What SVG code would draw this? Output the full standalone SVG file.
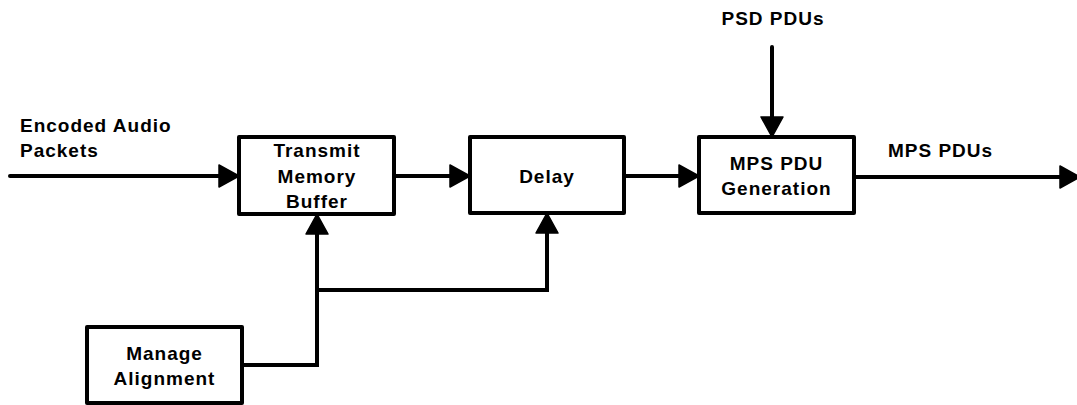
<svg xmlns="http://www.w3.org/2000/svg" width="1077" height="405" viewBox="0 0 1077 405">
  <style>
    .box { fill: #ffffff; stroke: #000000; stroke-width: 4; stroke-linejoin: round; }
    .wire { fill: none; stroke: #000000; stroke-width: 4; stroke-linecap: round; stroke-linejoin: miter; }
    .lbl { font-family: "Liberation Sans", Arial, sans-serif; font-weight: bold; font-size: 19px; letter-spacing: 1px; fill: #000000; }
    .mid { text-anchor: middle; }
  </style>
  <defs>
    <!-- solid arrowhead; path ends at the base of the head -->
    <marker id="head" markerUnits="userSpaceOnUse" markerWidth="24" markerHeight="26" refX="0" refY="11" orient="auto" overflow="visible">
      <path d="M0,0 L20,11 L0,22 Z" fill="#000000" stroke="#000000" stroke-width="1.5" stroke-linejoin="round"/>
    </marker>
  </defs>

  <rect width="1077" height="405" fill="#ffffff"/>

  <g id="connectors">
    <!-- audio input into buffer -->
    <path class="wire" d="M10,176 L219,176" marker-end="url(#head)"/>
    <!-- buffer to delay -->
    <path class="wire" d="M394,176 L450,176" marker-end="url(#head)"/>
    <!-- delay to PDU generation -->
    <path class="wire" d="M624,176 L679,176" marker-end="url(#head)"/>
    <!-- PDU output -->
    <path class="wire" d="M854,177 L1060,177" marker-end="url(#head)"/>
    <!-- PSD PDUs into generation -->
    <path class="wire" d="M772,47 L772,117" marker-end="url(#head)"/>
    <!-- alignment control to buffer -->
    <path class="wire" d="M242,365 L317,365 L317,234" marker-end="url(#head)"/>
    <!-- alignment control branch to delay -->
    <path class="wire" d="M317,290 L547,290 L547,233" marker-end="url(#head)"/>
  </g>

  <g id="label-input">
    <text class="lbl" x="20" y="132">Encoded Audio</text>
    <text class="lbl" x="20" y="157">Packets</text>
  </g>

  <g id="label-psd">
    <text class="lbl mid" x="773" y="25">PSD PDUs</text>
  </g>

  <g id="label-output">
    <text class="lbl" x="888" y="157">MPS PDUs</text>
  </g>

  <g id="node-buffer">
    <rect class="box" x="239" y="137" width="155" height="77"/>
    <text class="lbl mid" x="317" y="157">Transmit</text>
    <text class="lbl mid" x="317" y="182.5">Memory</text>
    <text class="lbl mid" x="317" y="208">Buffer</text>
  </g>

  <g id="node-delay">
    <rect class="box" x="470" y="137" width="154" height="76"/>
    <text class="lbl mid" x="547" y="182.5">Delay</text>
  </g>

  <g id="node-generation">
    <rect class="box" x="699" y="137" width="155" height="76"/>
    <text class="lbl mid" x="776.5" y="170">MPS PDU</text>
    <text class="lbl mid" x="776.5" y="195">Generation</text>
  </g>

  <g id="node-alignment">
    <rect class="box" x="87" y="327" width="155" height="76"/>
    <text class="lbl mid" x="164.5" y="360">Manage</text>
    <text class="lbl mid" x="164.5" y="385">Alignment</text>
  </g>
</svg>
